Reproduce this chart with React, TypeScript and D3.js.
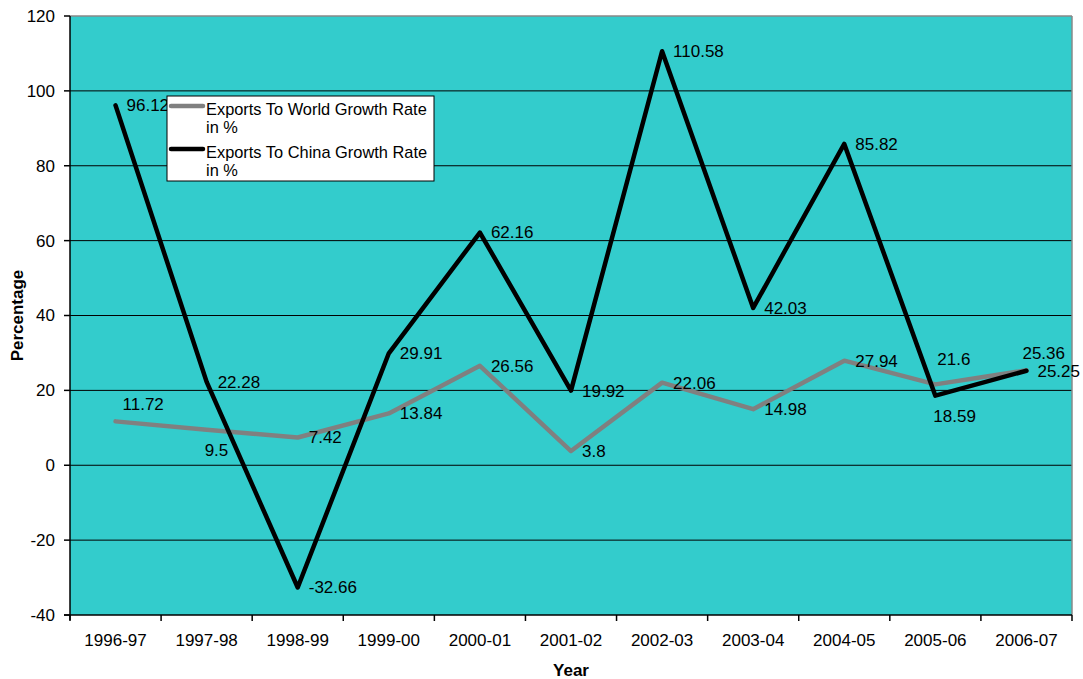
import React from "react";
import * as d3 from "d3";

const years = ["1996-97","1997-98","1998-99","1999-00","2000-01","2001-02","2002-03","2003-04","2004-05","2005-06","2006-07"];
const worldGrowth = [11.72, 9.5, 7.42, 13.84, 26.56, 3.8, 22.06, 14.98, 27.94, 21.6, 25.36];
const chinaGrowth = [96.12, 22.28, -32.66, 29.91, 62.16, 19.92, 110.58, 42.03, 85.82, 18.59, 25.25];
const yTicks = [-40, -20, 0, 20, 40, 60, 80, 100, 120];
const seriesNames = ["Exports To World Growth Rate in %", "Exports To China Growth Rate in %"];

// label placement styles (not data)
const worldLabelPlace = ["aboveRight","below","right","right","right","right","right","right","right","aboveFar","above"];
const chinaLabelPlace = ["right","right","right","right","right","right","right","right","right","below","right"];
const placeOffsets: Record<string, [number, number]> = {
  right: [11, 0],
  above: [-4, -17],
  aboveRight: [7, -17],
  aboveFar: [2, -25],
  below: [-2, 20],
};

const W = 1083, H = 679;
const L = 70, R = 1072, T = 16, B = 615;
const FONT = "'Liberation Sans', Arial, sans-serif";

export default function App() {
  const x = d3.scaleBand<string>().domain(years).range([L, R]).padding(0);
  const y = d3.scaleLinear().domain([-40, 120]).range([B, T]);
  const cx = (c: string) => (x(c) as number) + x.bandwidth() / 2;
  const line = d3.line<number>().x((_, i) => cx(years[i])).y((v) => y(v));
  const boundaries = years.map((c) => x(c) as number).concat([R]);

  const series = [
    { values: worldGrowth, color: "#808080", place: worldLabelPlace },
    { values: chinaGrowth, color: "#000000", place: chinaLabelPlace },
  ];

  return (
    <svg width={W} height={H} style={{ position: "absolute", left: 0, top: 0, background: "#fff" }} fontFamily={FONT}>
      <rect x={L} y={T} width={R - L} height={B - T} fill="#33CCCC" />
      {yTicks.filter((t) => t !== -40 && t !== 120).map((t) => (
        <line key={"g" + t} x1={L} x2={R} y1={y(t)} y2={y(t)} stroke="#000" strokeWidth={1} />
      ))}
      {/* frame */}
      <line x1={L} x2={R} y1={T} y2={T} stroke="#888" strokeWidth={1.5} />
      <line x1={R} x2={R} y1={T} y2={B} stroke="#888" strokeWidth={1.5} />
      <line x1={L} x2={L} y1={T} y2={B + 5} stroke="#000" strokeWidth={1.5} />
      <line x1={L - 6} x2={R} y1={B} y2={B} stroke="#000" strokeWidth={1.5} />
      {/* y ticks */}
      {yTicks.map((t) => (
        <g key={"y" + t}>
          <line x1={L - 6} x2={L} y1={y(t)} y2={y(t)} stroke="#000" strokeWidth={1.5} />
          <text x={55} y={y(t)} dy="0.35em" textAnchor="end" fontSize={17} fill="#000">{t}</text>
        </g>
      ))}
      {/* x ticks */}
      {boundaries.map((b, i) => (
        <line key={"xt" + i} x1={b} x2={b} y1={B} y2={B + 6} stroke="#000" strokeWidth={1.5} />
      ))}
      {years.map((c) => (
        <text key={"xl" + c} x={cx(c)} y={646} textAnchor="middle" fontSize={17} fill="#000">{c}</text>
      ))}
      {/* axis titles */}
      <text transform={`translate(23,${(T + B) / 2}) rotate(-90)`} textAnchor="middle" fontSize={17} fontWeight="bold" fill="#000">Percentage</text>
      <text x={571} y={676} textAnchor="middle" fontSize={17} fontWeight="bold" fill="#000">Year</text>
      {/* lines */}
      {series.map((s, si) => (
        <path key={"l" + si} d={line(s.values) || ""} fill="none" stroke={s.color} strokeWidth={4.5} strokeLinejoin="round" strokeLinecap="round" />
      ))}
      {/* labels */}
      {series.map((s, si) =>
        s.values.map((v, i) => {
          const [dx, dy] = placeOffsets[s.place[i]];
          return (
            <text key={"t" + si + "-" + i} x={cx(years[i]) + dx} y={y(v) + dy} dy="0.35em" fontSize={17} fill="#000">{v}</text>
          );
        })
      )}
      {/* legend */}
      <rect x={167} y={96} width={267} height={85} fill="#fff" stroke="#000" strokeWidth={1} />
      {series.map((s, si) => {
        const [first, ...rest] = seriesNames[si].split(" in ");
        const ly = si === 0 ? 106 : 149;
        return (
          <g key={"lg" + si}>
            <line x1={171} x2={203} y1={ly} y2={ly} stroke={s.color} strokeWidth={4.5} strokeLinecap="round" />
            <text x={206} y={ly + 9} fontSize={16.4} fill="#000">{first}</text>
            <text x={206} y={ly + 26.5} fontSize={16.4} fill="#000">{"in " + rest.join(" in ")}</text>
          </g>
        );
      })}
    </svg>
  );
}
